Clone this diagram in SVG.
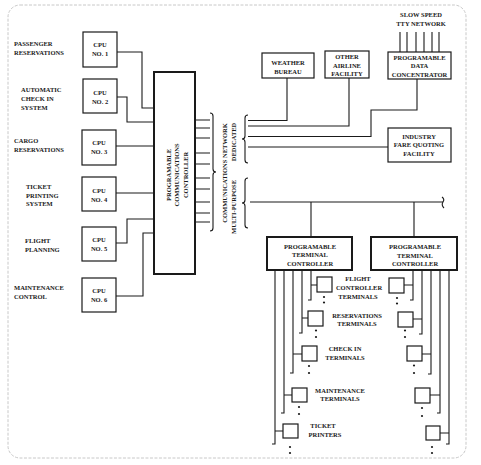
<svg xmlns="http://www.w3.org/2000/svg" width="481" height="465" viewBox="0 0 481 465">
<style>
text{font-family:"Liberation Serif","Times New Roman",serif;font-weight:bold;font-size:6.5px;fill:#1a1a1a}
.c{text-anchor:middle}
.box{fill:#fff;stroke:#1a1a1a;stroke-width:1.2}
.thick{fill:#fff;stroke:#1a1a1a;stroke-width:2}
.ln{fill:none;stroke:#1a1a1a;stroke-width:1.1}
.dot{fill:#1a1a1a}
</style>
<rect width="481" height="465" fill="#fff"/>
<rect x="8" y="5" width="458" height="453" rx="12" fill="none" stroke="#c8c8c8" stroke-width="1" stroke-dasharray="3 1.5"/>

<g id="connectors">
  <!-- CPU to controller -->
  <path class="ln" d="M117,52 H142 V108 H154"/>
  <path class="ln" d="M117,97 H127 V122 H154"/>
  <path class="ln" d="M116,146 H154"/>
  <path class="ln" d="M116,193 H154"/>
  <path class="ln" d="M116,243 H127 V219 H154"/>
  <path class="ln" d="M116,296 H143 V233 H154"/>
  <!-- controller ports -->
  <path class="ln" d="M195,120 H210 M195,128 H210 M195,138 H210 M195,153 H210 M195,164 H210 M195,178 H210 M195,189 H210 M195,202 H210 M195,213 H210 M195,222 H210"/>
  <!-- braces -->
  <path class="ln" d="M210,113 q3,0 3,3 v53 q0,3 3,3 q-3,0 -3,3 v53 q0,3 -3,3"/>
  <path class="ln" d="M248,115 q-3,0 -3,3 v18 q0,3 -3,3 q3,0 3,3 v18 q0,3 3,3"/>
  <path class="ln" d="M248,178 q-3,0 -3,3 v19 q0,3 -3,3 q3,0 3,3 v19 q0,3 3,3"/>
  <!-- dedicated lines -->
  <path class="ln" d="M287,78 V120.5 H248"/>
  <path class="ln" d="M349,78 V126 H248"/>
  <path class="ln" d="M417,79 V110 H371 V136.5 H248"/>
  <path class="ln" d="M388,147 H248"/>
  <!-- TTY lines -->
  <path class="ln" d="M400,32 V52 M407,32 V52 M416,32 V52 M424,32 V52 M432,32 V52 M439,32 V52"/>
  <!-- multipurpose bus -->
  <path class="ln" d="M250,202 H443"/>
  <path class="ln" d="M442,197 q3,2 1,5 q-2,3 1,6"/>
  <path class="ln" d="M311,202 V237 M414,202 V237"/>
  <!-- left terminal lines -->
  <path class="ln" d="M311,270 V300 h-3 M311,285 H317"/>
  <path class="ln" d="M302,270 V333 h-3 M302,318 H308"/>
  <path class="ln" d="M293,270 V373 h-3 M293,354 H302"/>
  <path class="ln" d="M284,270 V413 h-3 M284,395 H292"/>
  <path class="ln" d="M275,270 V444 h-3 M275,431 H283"/>
  <!-- right terminal lines -->
  <path class="ln" d="M413,270 V300 h-3 M404,285 H413"/>
  <path class="ln" d="M422,270 V334 h-3 M413,319 H422"/>
  <path class="ln" d="M431,270 V374 h-3 M422,354 H431"/>
  <path class="ln" d="M440,270 V413 h-3 M430,395 H440"/>
  <path class="ln" d="M449,270 V444 h-3 M440,433 H449"/>
</g>

<g id="lbl-passenger"><text x="14" y="46">PASSENGER</text><text x="14" y="55">RESERVATIONS</text></g>
<g id="lbl-checkin"><text x="21" y="92">AUTOMATIC</text><text x="21" y="101">CHECK IN</text><text x="21" y="109.5">SYSTEM</text></g>
<g id="lbl-cargo"><text x="14" y="143">CARGO</text><text x="14" y="151.5">RESERVATIONS</text></g>
<g id="lbl-ticket"><text x="26" y="189">TICKET</text><text x="26" y="197.5">PRINTING</text><text x="26" y="206">SYSTEM</text></g>
<g id="lbl-flight"><text x="25" y="243">FLIGHT</text><text x="25" y="251.5">PLANNING</text></g>
<g id="lbl-maint"><text x="14" y="290">MAINTENANCE</text><text x="14" y="298.5">CONTROL</text></g>

<g id="cpu1"><rect class="box" x="83" y="32" width="34" height="35"/><text class="c" x="100" y="47">CPU</text><text class="c" x="100" y="55.5">NO. 1</text></g>
<g id="cpu2"><rect class="box" x="83" y="79" width="34" height="34"/><text class="c" x="100" y="95">CPU</text><text class="c" x="100" y="103.5">NO. 2</text></g>
<g id="cpu3"><rect class="box" x="82" y="130" width="34" height="35"/><text class="c" x="99" y="145">CPU</text><text class="c" x="99" y="153.5">NO. 3</text></g>
<g id="cpu4"><rect class="box" x="82" y="177" width="34" height="34"/><text class="c" x="99" y="193">CPU</text><text class="c" x="99" y="201.5">NO. 4</text></g>
<g id="cpu5"><rect class="box" x="82" y="227" width="34" height="34"/><text class="c" x="99" y="242">CPU</text><text class="c" x="99" y="250.5">NO. 5</text></g>
<g id="cpu6"><rect class="box" x="82" y="278" width="34" height="34"/><text class="c" x="99" y="293">CPU</text><text class="c" x="99" y="301.5">NO. 6</text></g>

<g id="comm-controller">
  <rect class="thick" x="154" y="72" width="41" height="202"/>
  <text class="c" transform="translate(177,175) rotate(-90)"><tspan x="0" y="-6.5">PROGRAMABLE</tspan><tspan x="0" y="2">COMMUNICATIONS</tspan><tspan x="0" y="10.5">CONTROLLER</tspan></text>
</g>

<g id="network-labels">
  <text class="c" transform="translate(226.5,173) rotate(-90)">COMMUNICATIONS NETWORK</text>
  <text class="c" transform="translate(235.5,142) rotate(-90)">DEDICATED</text>
  <text class="c" transform="translate(235.5,207) rotate(-90)">MULTI-PURPOSE</text>
</g>

<g id="weather"><rect class="box" x="262" y="53" width="52" height="25"/><text class="c" x="288" y="65">WEATHER</text><text class="c" x="288" y="73.5">BUREAU</text></g>
<g id="other-airline"><rect class="box" x="325" y="51" width="44" height="27"/><text class="c" x="347" y="59">OTHER</text><text class="c" x="347" y="67.5">AIRLINE</text><text class="c" x="347" y="76">FACILITY</text></g>
<g id="tty"><text class="c" x="421" y="17">SLOW SPEED</text><text class="c" x="421" y="26">TTY NETWORK</text></g>
<g id="data-concentrator"><rect class="box" x="388" y="52" width="63" height="27" stroke-width="1.8"/><text class="c" x="419.5" y="59.5">PROGRAMABLE</text><text class="c" x="419.5" y="68">DATA</text><text class="c" x="419.5" y="76.5">CONCENTRATOR</text></g>
<g id="industry-fare"><rect class="box" x="388" y="128" width="63" height="34"/><text class="c" x="419" y="138.5">INDUSTRY</text><text class="c" x="419" y="147">FARE QUOTING</text><text class="c" x="419" y="155.5">FACILITY</text></g>

<g id="terminal-controller-1"><rect class="thick" x="267" y="237" width="85" height="33"/><text class="c" x="310" y="248.5">PROGRAMABLE</text><text class="c" x="310" y="257">TERMINAL</text><text class="c" x="310" y="265.5">CONTROLLER</text></g>
<g id="terminal-controller-2"><rect class="thick" x="371" y="237" width="86" height="33"/><text class="c" x="415" y="249">PROGRAMABLE</text><text class="c" x="415" y="257.5">TERMINAL</text><text class="c" x="415" y="266">CONTROLLER</text></g>

<g id="terminals-left">
  <rect class="box" x="317" y="277" width="15" height="15"/><circle class="dot" cx="324" cy="297" r="1.1"/><circle class="dot" cx="324" cy="302.5" r="1.1"/>
  <rect class="box" x="308" y="311" width="15" height="15"/><circle class="dot" cx="316" cy="330.5" r="1.1"/><circle class="dot" cx="316" cy="337" r="1.1"/>
  <rect class="box" x="302" y="346" width="15" height="15"/><circle class="dot" cx="309" cy="366" r="1.1"/><circle class="dot" cx="309" cy="373" r="1.1"/>
  <rect class="box" x="292" y="388" width="15" height="14"/><circle class="dot" cx="299" cy="407" r="1.1"/><circle class="dot" cx="299" cy="414" r="1.1"/>
  <rect class="box" x="283" y="424" width="15" height="14"/><circle class="dot" cx="290" cy="447" r="1.1"/><circle class="dot" cx="290" cy="453" r="1.1"/>
</g>
<g id="terminals-right">
  <rect class="box" x="389" y="278" width="15" height="15"/><circle class="dot" cx="397" cy="298" r="1.1"/><circle class="dot" cx="397" cy="303.5" r="1.1"/>
  <rect class="box" x="398" y="312" width="15" height="15"/><circle class="dot" cx="405" cy="330.5" r="1.1"/><circle class="dot" cx="405" cy="337" r="1.1"/>
  <rect class="box" x="407" y="346" width="15" height="15"/><circle class="dot" cx="414" cy="365.5" r="1.1"/><circle class="dot" cx="414" cy="373" r="1.1"/>
  <rect class="box" x="415" y="388" width="15" height="15"/><circle class="dot" cx="422" cy="408" r="1.1"/><circle class="dot" cx="422" cy="416" r="1.1"/>
  <rect class="box" x="426" y="426" width="14" height="14"/><circle class="dot" cx="432" cy="447" r="1.1"/><circle class="dot" cx="432" cy="453" r="1.1"/>
</g>

<g id="terminal-labels">
  <text class="c" x="358" y="280.5">FLIGHT</text><text class="c" x="359" y="289.5">CONTROLLER</text><text class="c" x="358" y="298.5">TERMINALS</text>
  <text class="c" x="357" y="317.5">RESERVATIONS</text><text class="c" x="357" y="326">TERMINALS</text>
  <text class="c" x="345" y="351">CHECK IN</text><text class="c" x="345" y="359.5">TERMINALS</text>
  <text class="c" x="340" y="392.5">MAINTENANCE</text><text class="c" x="340" y="401">TERMINALS</text>
  <text class="c" x="323" y="428">TICKET</text><text class="c" x="325" y="436.5">PRINTERS</text>
</g>
</svg>
